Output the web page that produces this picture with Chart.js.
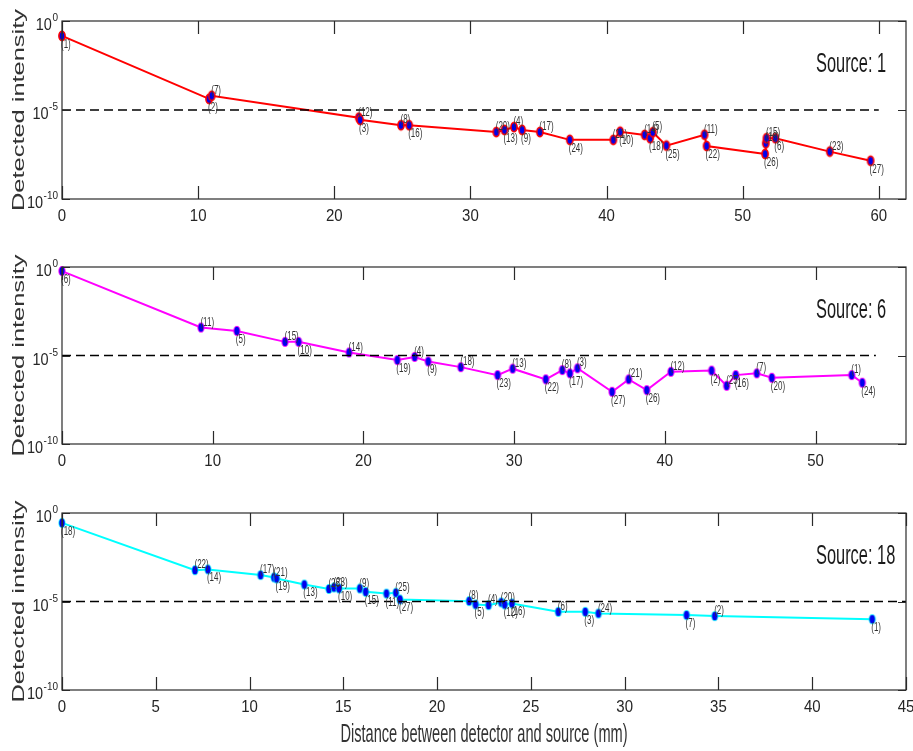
<!DOCTYPE html>
<html>
<head>
<meta charset="utf-8">
<title>Detected intensity vs distance</title>
<script src="https://cdn.jsdelivr.net/npm/chart.js@4.4.1/dist/chart.umd.min.js"></script>
<style>
  html, body { margin: 0; padding: 0; background: #fff; }
  #wrap { position: relative; width: 913px; height: 751px; overflow: hidden; }
  canvas { position: absolute; left: 0; }
</style>
</head>
<body>
<div id="wrap">
  <canvas id="p1" width="913" height="232" style="top:0px"></canvas>
  <canvas id="p2" width="913" height="232" style="top:246px"></canvas>
  <canvas id="p3" width="913" height="259" style="top:492px"></canvas>
</div>
<script>
// Source 1: distance (mm), detected intensity, detector id
const src1Dist = [0, 10.8, 11.0, 21.8, 21.9, 24.9, 25.5, 31.9, 32.5, 33.2, 33.8, 35.1, 37.3, 40.5,
  41.0, 42.8, 43.2, 43.4, 44.4, 47.2, 47.35, 51.65, 51.7, 51.75, 52.4, 56.4, 59.4];
const src1Val = [1.45e-1, 4.2e-5, 6.3e-5, 3.7e-6, 2.8e-6, 1.4e-6, 1.4e-6, 5.8e-7, 7.6e-7, 1.1e-6,
  7.6e-7, 5.8e-7, 2.1e-7, 2.1e-7, 6.0e-7, 4.0e-7, 2.6e-7, 5.6e-7, 1.0e-7, 4.1e-7, 9.5e-8,
  3.4e-8, 1.35e-7, 2.6e-7, 2.6e-7, 4.6e-8, 1.4e-8];
const src1Ids = [1, 2, 7, 12, 3, 8, 16, 20, 13, 4, 9, 17, 24, 21, 10, 14, 18, 5, 25, 11, 22, 26, 19, 15, 6, 23, 27];

// Source 6
const src6Dist = [0, 9.22, 11.6, 14.8, 15.7, 19.05, 22.25, 23.4, 24.3, 26.46, 28.9, 29.9, 32.1, 33.2,
  33.7, 34.2, 36.5, 37.6, 38.8, 40.4, 43.1, 44.1, 44.7, 46.1, 47.1, 52.4, 53.1];
const src6Val = [5.9e-1, 3.8e-4, 2.45e-4, 5.9e-5, 5.9e-5, 1.48e-5, 5.5e-6, 8.3e-6, 4.6e-6, 2.2e-6,
  7.8e-7, 1.8e-6, 4.5e-7, 1.5e-6, 9.8e-7, 1.9e-6, 8.9e-8, 4.5e-7, 1.1e-7, 1.2e-6, 1.4e-6,
  1.95e-7, 7.8e-7, 9.8e-7, 5.5e-7, 7.8e-7, 2.9e-7];
const src6Ids = [6, 11, 5, 15, 10, 14, 19, 4, 9, 18, 23, 13, 22, 8, 17, 3, 27, 21, 26, 12, 2, 25, 16, 7, 20, 1, 24];

// Source 18
const src18Dist = [0, 7.09, 7.78, 10.59, 11.3, 11.44, 12.92, 14.23, 14.5, 14.77, 15.88, 16.19, 17.3, 17.8,
  18.02, 21.71, 22.05, 22.74, 23.42, 23.6, 23.99, 26.46, 27.9, 28.6, 33.3, 34.8, 43.2];
const src18Val = [2.75e-1, 5.9e-4, 6.5e-4, 3.1e-4, 2.3e-4, 2.0e-4, 9.1e-5, 5.1e-5, 6.2e-5, 5.4e-5,
  5.4e-5, 3.5e-5, 2.8e-5, 3.1e-5, 1.3e-5, 1.05e-5, 6.8e-6, 6.2e-6, 8.9e-6, 6.8e-6, 7.8e-6,
  2.6e-6, 2.6e-6, 2.1e-6, 1.7e-6, 1.5e-6, 1.0e-6];
const src18Ids = [18, 22, 14, 17, 21, 19, 13, 26, 23, 10, 9, 15, 11, 25, 27, 8, 5, 4, 20, 12, 16, 6, 3, 24, 7, 2, 1];

// axes and threshold
const yTicks = [1e-10, 1e-5, 1];
const thresholdLevel = 1e-5;
const xMax = [62, 56, 45];
const xStep = [10, 10, 5];
const thresholdEnd = [60, 54, 45];

// label placement: u = above the marker, d = below
const src1Side = ['d','d','u','u','d','u','d','u','d','u','d','u','d','u','d','u','d','u','d','u','d','d','u','u','d','u','d'];
const src6Side = ['d','u','d','u','d','u','d','u','d','u','d','u','d','u','d','u','d','u','d','u','d','u','d','u','d','u','d'];
const src18Side = ['d','u','d','u','u','d','d','u','u','d','u','d','d','u','d','u','d','u','u','d','d','u','d','u','d','u','d'];

const FONT = "'Liberation Sans', Arial, Helvetica, sans-serif";

// text drawn taller than wide, like the exported figure
function tallText(ctx, str, x, y, size, sy, align, baseline, color) {
  ctx.save();
  ctx.translate(x, y);
  ctx.scale(1, sy);
  ctx.font = size + 'px ' + FONT;
  ctx.textAlign = align;
  ctx.textBaseline = baseline;
  ctx.fillStyle = color || '#262626';
  ctx.fillText(str, 0, 0);
  ctx.restore();
}

function markerImage(edge, edgeWidth) {
  const c = document.createElement('canvas');
  c.width = 10; c.height = 14;
  const g = c.getContext('2d');
  g.beginPath();
  g.ellipse(5, 7, 3.1, 4.6, 0, 0, Math.PI * 2);
  g.fillStyle = '#0000ee';
  g.fill();
  g.lineWidth = edgeWidth;
  g.strokeStyle = edge;
  g.stroke();
  return c;
}

const decor = {
  id: 'decor',
  afterDatasetsDraw(chart, args, opts) {
    const ctx = chart.ctx;
    const meta = chart.getDatasetMeta(0);
    meta.data.forEach((pt, i) => {
      const lbl = '(' + opts.ids[i] + ')';
      if (opts.sides[i] === 'u') {
        tallText(ctx, lbl, pt.x - 0.5, pt.y + 1, 8, 1.6, 'left', 'bottom', '#333');
      } else {
        tallText(ctx, lbl, pt.x - 1, pt.y + 2, 8, 1.6, 'left', 'top', '#333');
      }
    });
  },
  afterDraw(chart, args, opts) {
    const ctx = chart.ctx;
    const { left, right, top, bottom } = chart.chartArea;
    const xs = chart.scales.x, ys = chart.scales.y;

    ctx.save();
    ctx.strokeStyle = '#2a2a2a';
    ctx.lineWidth = 1.2;
    ctx.strokeRect(left, top, right - left, bottom - top);

    // inward tick marks
    ctx.beginPath();
    for (let v = 0; v <= opts.xMax + 1e-9; v += opts.step) {
      const px = Math.round(xs.getPixelForValue(v)) + 0.5;
      ctx.moveTo(px, bottom); ctx.lineTo(px, bottom - 13);
      ctx.moveTo(px, top); ctx.lineTo(px, top + 13);
    }
    yTicks.forEach(v => {
      const py = Math.round(ys.getPixelForValue(v)) + 0.5;
      ctx.moveTo(left, py); ctx.lineTo(left + 8, py);
      ctx.moveTo(right, py); ctx.lineTo(right - 8, py);
    });
    ctx.stroke();
    ctx.restore();

    // x tick labels
    for (let v = 0; v <= opts.xMax + 1e-9; v += opts.step) {
      tallText(ctx, String(v), xs.getPixelForValue(v), bottom + 9, 15, 1.15, 'center', 'top');
    }

    // y tick labels as 10 with raised exponent
    yTicks.forEach(v => {
      const py = ys.getPixelForValue(v);
      const exp = String(Math.round(Math.log10(v)));
      ctx.font = '10px ' + FONT;
      const ew = ctx.measureText(exp).width;
      const xr = left - 4;
      tallText(ctx, exp, xr, py - 3, 10, 1.1, 'right', 'middle');
      tallText(ctx, '10', xr - ew - 0.5, py + 5, 14.5, 1.1, 'right', 'middle');
    });

    // y axis title, stretched along its length
    ctx.save();
    ctx.translate(19, (top + bottom) / 2);
    ctx.rotate(-Math.PI / 2);
    ctx.scale(1.54, 1);
    ctx.font = '16.5px ' + FONT;
    ctx.textAlign = 'center';
    ctx.textBaseline = 'middle';
    ctx.fillStyle = '#333';
    ctx.fillText('Detected intensity', 0, 0);
    ctx.restore();

    tallText(ctx, 'Source: ' + opts.source, 816, top + 43, 16.4, 1.68, 'left', 'middle', '#1a1a1a');

    if (opts.xTitle) {
      tallText(ctx, opts.xTitle, (left + right) / 2, chart.height - 9, 14.6, 1.8, 'center', 'alphabetic', '#333');
    }
  }
};

function makePanel(id, k, source, dist, vals, ids, sides, color, edgeWidth, padBottom, xTitle) {
  const ctx = document.getElementById(id).getContext('2d');
  return new Chart(ctx, {
    type: 'line',
    data: {
      datasets: [
        {
          data: dist.map((d, i) => ({ x: d, y: vals[i] })),
          borderColor: color,
          borderWidth: 2,
          pointStyle: markerImage(color, edgeWidth),
          pointRadius: 4,
          tension: 0,
          clip: false,
          order: 1
        },
        {
          data: [{ x: 0, y: thresholdLevel }, { x: thresholdEnd[k], y: thresholdLevel }],
          borderColor: '#000',
          borderWidth: 1.5,
          borderDash: [9, 5],
          pointRadius: 0,
          order: 0
        }
      ]
    },
    options: {
      responsive: false,
      animation: false,
      devicePixelRatio: 1,
      layout: { padding: { left: 62, right: 7, top: 21, bottom: padBottom } },
      scales: {
        x: { type: 'linear', min: 0, max: xMax[k], display: false },
        y: { type: 'logarithmic', min: 1e-10, max: 1, display: false }
      },
      plugins: {
        legend: { display: false },
        tooltip: { enabled: false },
        decor: { source: source, ids: ids, sides: sides, xMax: xMax[k], step: xStep[k], xTitle: xTitle }
      }
    },
    plugins: [decor]
  });
}

makePanel('p1', 0, 1, src1Dist, src1Val, src1Ids, src1Side, '#ff0000', 1.6, 33, null);
makePanel('p2', 1, 6, src6Dist, src6Val, src6Ids, src6Side, '#ff00ff', 1.0, 34, null);
makePanel('p3', 2, 18, src18Dist, src18Val, src18Ids, src18Side, '#00ffff', 0.8, 61,
  'Distance between detector and source (mm)');
</script>
</body>
</html>
